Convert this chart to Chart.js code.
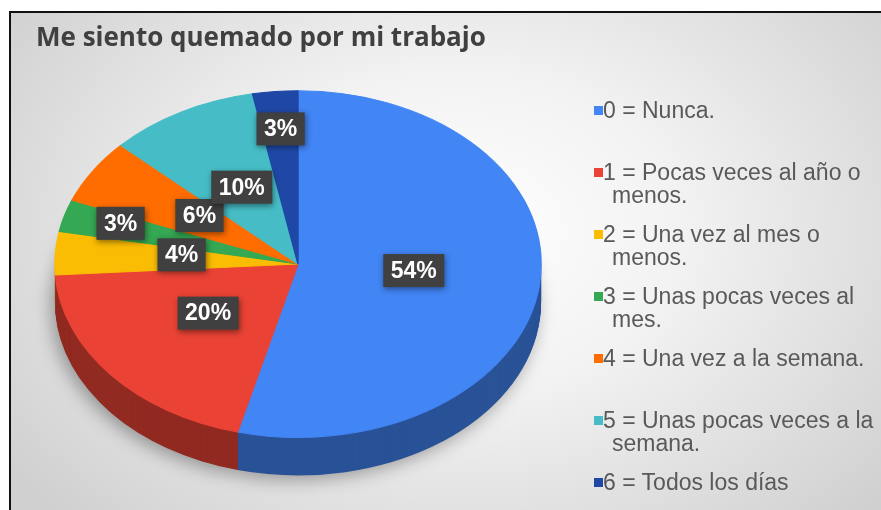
<!DOCTYPE html>
<html>
<head>
<meta charset="utf-8">
<script src="https://cdn.jsdelivr.net/npm/chart.js@4.4.1/dist/chart.umd.min.js"></script>
<style>
html,body{margin:0;padding:0;background:#fff;}
#wrap{position:relative;width:881px;height:510px;overflow:hidden;}
#frame{position:absolute;left:9px;top:11px;width:900px;height:520px;border-left:2px solid #111;border-top:2px solid #111;
  background: radial-gradient(ellipse 62% 78% at 50% 42%, #ffffff 0%, #f2f2f2 40%, #d0d0d0 100%);}
#c{position:absolute;left:0;top:0;}
#legend{position:absolute;left:0;top:0;width:881px;height:510px;font-family:"Liberation Sans",Arial,sans-serif;font-size:23px;color:#595959;}
.item{position:absolute;left:603px;line-height:23px;padding-left:9px;text-indent:-9px;white-space:nowrap;}
.sw{position:absolute;left:-9px;top:7px;width:9px;height:9px;}
</style>
</head>
<body>
<div id="wrap">
  <div id="frame"></div>
  <canvas id="c" width="881" height="510"></canvas>
  <div id="legend"></div>
</div>
<script>
const chartTitle = 'Me siento quemado por mi trabajo';
const categories = [
  ['0 = Nunca.'],
  ['1 = Pocas veces al año o', 'menos.'],
  ['2 = Una vez al mes o', 'menos.'],
  ['3 = Unas pocas veces al', 'mes.'],
  ['4 = Una vez a la semana.'],
  ['5 = Unas pocas veces a la', 'semana.'],
  ['6 = Todos los días']
];
const percentages = [54, 20, 4, 3, 6, 10, 3];
const sliceColors = ['#4285f4', '#ea4335', '#fbbc04', '#34a853', '#ff6d01', '#46bdc6', '#1f48a6'];

const SX = 1.402;     // horizontal stretch of the tilted pie
const DEPTH = 38;     // thickness of the 3D side

function shade(hex, f) {
  const n = parseInt(hex.slice(1), 16);
  const r = (n >> 16) & 255, g = (n >> 8) & 255, b = n & 255;
  return 'rgb(' + Math.round(r * f) + ',' + Math.round(g * f) + ',' + Math.round(b * f) + ')';
}

const pie3d = {
  id: 'pie3d',
  beforeDatasetsDraw(chart) {
    const arcs = chart.getDatasetMeta(0).data;
    const ctx = chart.ctx;
    const cx = arcs[0].x, cy = arcs[0].y;
    ctx.save();
    ctx.translate(cx, cy); ctx.scale(SX, 1); ctx.translate(-cx, -cy);
    for (let d = DEPTH; d >= 1; d--) {
      arcs.forEach((a, i) => {
        ctx.save();
        if (d === DEPTH) {
          ctx.shadowColor = 'rgba(0,0,0,0.35)';
          ctx.shadowBlur = 18; ctx.shadowOffsetX = -4; ctx.shadowOffsetY = 4;
        }
        ctx.beginPath();
        ctx.moveTo(a.x, a.y + d);
        ctx.arc(a.x, a.y + d, a.outerRadius, a.startAngle, a.endAngle);
        ctx.closePath();
        ctx.fillStyle = shade(sliceColors[i], 0.62);
        ctx.fill();
        ctx.restore();
      });
    }
  },
  afterDatasetsDraw(chart) {
    const ctx = chart.ctx;
    ctx.restore();
    const arcs = chart.getDatasetMeta(0).data;
    ctx.save();
    ctx.font = 'bold 23px "Liberation Sans", Arial, sans-serif';
    ctx.textAlign = 'center';
    ctx.textBaseline = 'middle';
    arcs.forEach((a, i) => {
      const mid = (a.startAngle + a.endAngle) / 2;
      const f = percentages[i] < 4 ? 0.76 : 0.48;
      const r = a.outerRadius * f;
      const x = a.x + Math.cos(mid) * r * SX;
      const y = a.y + Math.sin(mid) * r - 4;
      const txt = percentages[i] + '%';
      const w = ctx.measureText(txt).width + 15, h = 33;
      ctx.save();
      ctx.shadowColor = 'rgba(0,0,0,0.45)';
      ctx.shadowBlur = 6; ctx.shadowOffsetX = 1; ctx.shadowOffsetY = 2;
      ctx.fillStyle = '#404040';
      ctx.fillRect(x - w / 2, y - h / 2, w, h);
      ctx.restore();
      ctx.fillStyle = '#ffffff';
      ctx.fillText(txt, x, y + 1);
    });
    ctx.restore();
  }
};

new Chart(document.getElementById('c'), {
  type: 'pie',
  data: {
    labels: categories.map(l => l.join(' ')),
    datasets: [{
      data: percentages,
      backgroundColor: sliceColors,
      borderColor: sliceColors,
      borderWidth: 1,
      clip: false
    }]
  },
  options: {
    responsive: false,
    animation: false,
    events: [],
    layout: { padding: { left: 36, right: 321, top: 0, bottom: 72 } },
    plugins: {
      legend: { display: false },
      tooltip: { enabled: false },
      title: {
        display: true,
        text: chartTitle,
        align: 'start',
        color: '#404040',
        font: { family: '"Open Sans", sans-serif', size: 26, weight: 'bold', lineHeight: 1.2 },
        padding: { top: 23, bottom: 36 }
      }
    }
  },
  plugins: [pie3d]
});

// HTML legend built from the category list
const legend = document.getElementById('legend');
categories.forEach((lines, i) => {
  const item = document.createElement('div');
  item.className = 'item';
  item.style.top = (110 + 62 * i - 11.5) + 'px';
  const sw = document.createElement('span');
  sw.className = 'sw';
  sw.style.background = sliceColors[i];
  item.appendChild(sw);
  lines.forEach((t, k) => {
    if (k > 0) item.appendChild(document.createElement('br'));
    item.appendChild(document.createTextNode(t));
  });
  legend.appendChild(item);
});
</script>
</body>
</html>
